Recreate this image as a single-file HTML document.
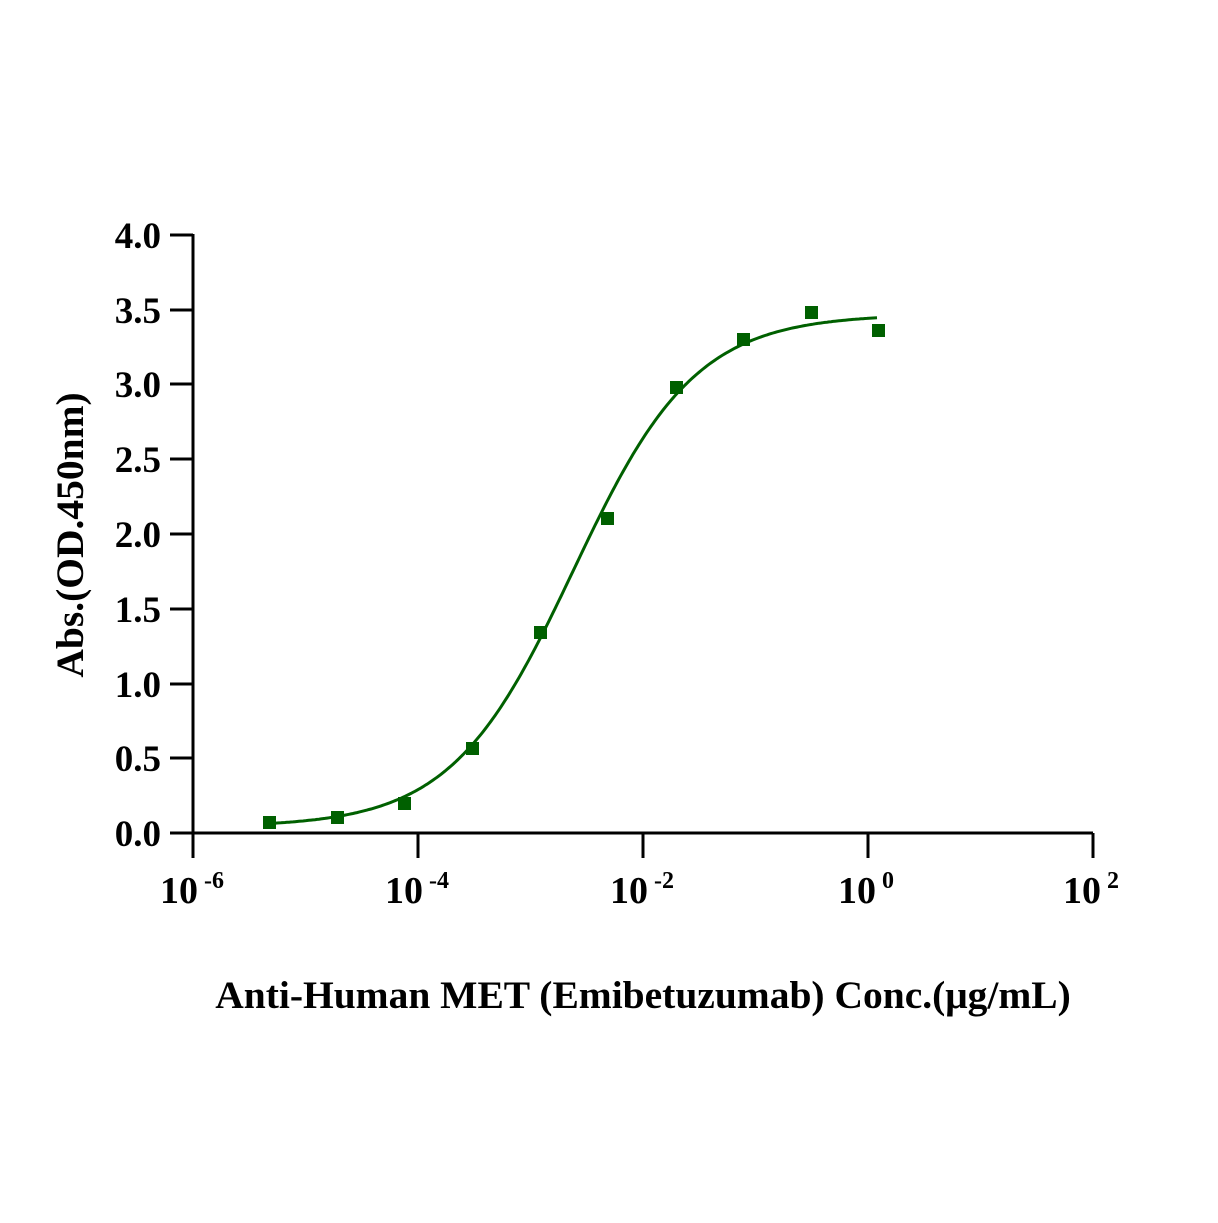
<!DOCTYPE html>
<html><head><style>
html,body{margin:0;padding:0;background:#fff;}
svg text{font-family:"Liberation Serif",serif;font-weight:bold;fill:#000;}
</style></head><body>
<svg id="s" width="1218" height="1218" viewBox="0 0 1218 1218" xmlns="http://www.w3.org/2000/svg">
<rect width="1218" height="1218" fill="#fff"/>
<g stroke="#000" stroke-width="3" fill="none">
<line x1="193" y1="234" x2="193" y2="858"/>
<line x1="170" y1="833" x2="1093" y2="833"/>
<line x1="1093" y1="833" x2="1093" y2="858"/>
<line x1="418" y1="833" x2="418" y2="858"/>
<line x1="643" y1="833" x2="643" y2="858"/>
<line x1="868" y1="833" x2="868" y2="858"/>
<line x1="170" y1="235" x2="193" y2="235"/>
<line x1="170" y1="310" x2="193" y2="310"/>
<line x1="170" y1="384" x2="193" y2="384"/>
<line x1="170" y1="459" x2="193" y2="459"/>
<line x1="170" y1="534" x2="193" y2="534"/>
<line x1="170" y1="609" x2="193" y2="609"/>
<line x1="170" y1="684" x2="193" y2="684"/>
<line x1="170" y1="758" x2="193" y2="758"/>
</g>
<g font-size="37" text-anchor="end">
<text x="161" y="248">4.0</text>
<text x="161" y="323">3.5</text>
<text x="161" y="397">3.0</text>
<text x="161" y="472">2.5</text>
<text x="161" y="547">2.0</text>
<text x="161" y="622">1.5</text>
<text x="161" y="697">1.0</text>
<text x="161" y="771">0.5</text>
<text x="161" y="846">0.0</text>
</g>
<g font-size="38">
<text x="160" y="903">10<tspan font-size="24" dx="6" dy="-15">-6</tspan></text>
<text x="385" y="903">10<tspan font-size="24" dx="6" dy="-15">-4</tspan></text>
<text x="610" y="903">10<tspan font-size="24" dx="6" dy="-15">-2</tspan></text>
<text x="838" y="903">10<tspan font-size="24" dx="6" dy="-15">0</tspan></text>
<text x="1063" y="903">10<tspan font-size="24" dx="6" dy="-15">2</tspan></text>
</g>
<text x="643" y="1008" font-size="39.5" text-anchor="middle">Anti-Human MET (Emibetuzumab) Conc.(μg/mL)</text>
<text transform="translate(83,535) rotate(-90)" font-size="39.5" text-anchor="middle">Abs.(OD.450nm)</text>
<path id="c" fill="none" stroke="#006000" stroke-width="3"/>
<g fill="#006000">
<rect x="263" y="816" width="13" height="13"/>
<rect x="331" y="811" width="13" height="13"/>
<rect x="398" y="797" width="13" height="13"/>
<rect x="466" y="742" width="13" height="13"/>
<rect x="534" y="626" width="13" height="13"/>
<rect x="601" y="512" width="13" height="13"/>
<rect x="670" y="381" width="13" height="13"/>
<rect x="737" y="333" width="13" height="13"/>
<rect x="805" y="306" width="13" height="13"/>
<rect x="872" y="324" width="13" height="13"/>
</g>
</svg>
<script>
var d="";for(var px=269;px<=877;px+=2){var lx=-6+(px-193)/112.5;var y=0.04+3.43/(1+Math.pow(10,(-2.62-lx)*0.8));var py=833-y*149.5;d+=(d?"L":"M")+px+","+py.toFixed(1);}
document.getElementById("c").setAttribute("d",d);
</script>
</body></html>
